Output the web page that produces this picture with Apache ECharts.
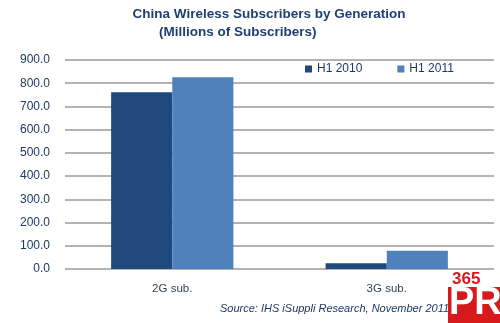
<!DOCTYPE html>
<html>
<head>
<meta charset="utf-8">
<script src="https://cdn.jsdelivr.net/npm/echarts@6/dist/echarts.min.js"></script>
<style>
  html, body { margin: 0; padding: 0; background: #fff; }
  #chart { width: 500px; height: 323px; }
</style>
</head>
<body>
<div id="chart"></div>
<script>
// Subscriber counts by network generation (millions)
const categories = ['2G sub.', '3G sub.'];
const seriesNames = ['H1 2010', 'H1 2011'];
const h1_2010 = [761, 25];
const h1_2011 = [826, 79];
const yTicks = { min: 0, max: 900, interval: 100 };

const titleColor = '#1F3F73';
const labelColor = '#1F3864';
const darkBlue = '#1F497D';
const lightBlue = '#4F81BD';

const chart = echarts.init(document.getElementById('chart'));
chart.setOption({
  animation: false,
  backgroundColor: '#ffffff',
  title: [
    {
      text: 'China Wireless Subscribers by Generation',
      left: 269, textAlign: 'center', top: 7, padding: 0,
      textStyle: { fontFamily: 'Liberation Sans', fontSize: 13.5, fontWeight: 'bold', color: titleColor }
    },
    {
      text: '(Millions of Subscribers)',
      left: 159, top: 25, padding: 0,
      textStyle: { fontFamily: 'Liberation Sans', fontSize: 13.5, fontWeight: 'bold', color: titleColor }
    }
  ],
  legend: {
    data: seriesNames,
    left: 301,
    top: 61,
    itemWidth: 7,
    itemHeight: 7,
    itemGap: 35,
    icon: 'rect',
    backgroundColor: '#ffffff',
    padding: [2, 4],
    textStyle: { fontFamily: 'Liberation Sans', fontSize: 12, color: labelColor }
  },
  grid: { left: 65, right: 6, top: 60, bottom: 54, containLabel: false },
  xAxis: {
    type: 'category',
    data: categories,
    axisLine: { show: false },
    axisTick: { show: false },
    axisLabel: { fontFamily: 'Liberation Sans', fontSize: 11.5, color: '#333f55', margin: 14 }
  },
  yAxis: {
    type: 'value',
    min: yTicks.min,
    max: yTicks.max,
    interval: yTicks.interval,
    axisLine: { show: false },
    axisTick: { show: false },
    axisLabel: {
      fontFamily: 'Liberation Sans', fontSize: 12, color: labelColor, margin: 15,
      formatter: v => v.toFixed(1)
    },
    splitLine: { lineStyle: { color: '#9a9a9a', width: 1.5 } }
  },
  series: [
    { name: seriesNames[0], type: 'bar', data: h1_2010, barGap: '0%', barCategoryGap: '43%',
      itemStyle: { color: darkBlue } },
    { name: seriesNames[1], type: 'bar', data: h1_2011,
      itemStyle: { color: lightBlue } }
  ],
  graphic: [
    { type: 'text', left: 220, top: 303,
      style: { text: 'Source: IHS iSuppli Research, November 2011', fontFamily: 'Liberation Sans',
               fontSize: 11, fontStyle: 'italic', fill: labelColor } },
    // site badge
    { type: 'rect', shape: { x: 448, y: 287, width: 52, height: 36 }, style: { fill: '#D7191C' }, z: 10 },
    { type: 'text', left: 452, top: 271,
      style: { text: '365', fontFamily: 'Liberation Sans', fontSize: 17, fontWeight: 'bold', fill: '#D7191C' }, z: 10 },
    { type: 'text', left: 449, top: 285,
      style: { text: 'PR', fontFamily: 'Liberation Sans', fontSize: 38, fontWeight: 'bold', fill: '#ffffff' }, z: 11 }
  ]
});
</script>
</body>
</html>
